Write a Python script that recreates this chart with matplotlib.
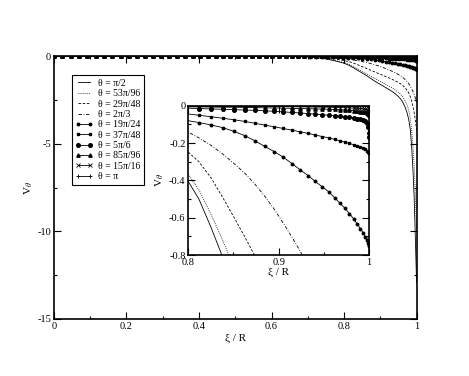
import numpy as np
import matplotlib.pyplot as plt
from matplotlib.ticker import MultipleLocator, FuncFormatter

plt.rcParams['font.family'] = ['Liberation Serif', 'DejaVu Serif']
plt.rcParams['mathtext.fontset'] = 'stix'
plt.rcParams['axes.unicode_minus'] = False

# radial grid (denser towards the wall, as the markers show)
xi = [0.0, 0.0231, 0.0462, 0.0693, 0.0923, 0.1152, 0.1382, 0.1610, 0.1837, 0.2064,
      0.2290, 0.2514, 0.2737, 0.2958, 0.3178, 0.3396, 0.3612, 0.3827, 0.4039, 0.4250,
      0.4457, 0.4663, 0.4866, 0.5067, 0.5263, 0.5459, 0.5651, 0.5841, 0.6026, 0.6209,
      0.6389, 0.6565, 0.6737, 0.6906, 0.7071, 0.7232, 0.7390, 0.7544, 0.7693, 0.7839,
      0.7980, 0.8117, 0.8250, 0.8379, 0.8502, 0.8622, 0.8737, 0.8846, 0.8952, 0.9052,
      0.9148, 0.9239, 0.9325, 0.9406, 0.9482, 0.9553, 0.9619, 0.9679, 0.9735, 0.9784,
      0.9830, 0.9870, 0.9904, 0.9934, 0.9957, 0.9976, 0.9989, 0.9997, 1.0]

v_a = [0, 0, 0, 0, 0, 0, 0, 0, 0, 0, 0, 0, 0, 0, 0, 0, 0, 0, 0, 0,
       0, 0, 0, 0, 0, -0.001, -0.002, -0.003, -0.005, -0.007,
       -0.010, -0.015, -0.025, -0.040, -0.060, -0.088, -0.125, -0.175, -0.240, -0.315,
       -0.390, -0.500, -0.650, -0.810, -0.960, -1.110, -1.270, -1.420, -1.550, -1.670,
       -1.790, -1.900, -2.010, -2.140, -2.270, -2.420, -2.620, -2.880, -3.200, -3.600,
       -4.200, -5.300, -6.600, -8.000, -9.600, -11.00, -12.00, -12.60, -12.90]
v_b = [0, 0, 0, 0, 0, 0, 0, 0, 0, 0, 0, 0, 0, 0, 0, 0, 0, 0, 0, 0,
       0, 0, 0, 0, 0, -0.001, -0.002, -0.003, -0.004, -0.006,
       -0.008, -0.012, -0.020, -0.033, -0.050, -0.075, -0.108, -0.152, -0.210, -0.280,
       -0.355, -0.450, -0.580, -0.720, -0.860, -1.000, -1.140, -1.270, -1.390, -1.500,
       -1.610, -1.710, -1.810, -1.920, -2.030, -2.160, -2.320, -2.520, -2.760, -3.080,
       -3.550, -4.300, -5.200, -6.200, -7.300, -8.400, -9.200, -9.700, -9.850]
v_c = [0, 0, 0, 0, 0, 0, 0, 0, 0, 0, 0, 0, 0, 0, 0, 0, 0, 0, 0, 0,
       0, 0, 0, 0, 0, 0, -0.001, -0.002, -0.003, -0.004,
       -0.005, -0.008, -0.013, -0.021, -0.032, -0.048, -0.070, -0.100, -0.140, -0.190,
       -0.240, -0.300, -0.385, -0.490, -0.595, -0.700, -0.805, -0.900, -0.990, -1.075,
       -1.160, -1.240, -1.320, -1.400, -1.480, -1.570, -1.670, -1.790, -1.930, -2.100,
       -2.320, -2.600, -2.900, -3.200, -3.500, -3.780, -4.000, -4.150, -4.200]
v_d = [0, 0, 0, 0, 0, 0, 0, 0, 0, 0, 0, 0, 0, 0, 0, 0, 0, 0, 0, 0,
       0, 0, 0, 0, 0, 0, 0, -0.001, -0.001, -0.002,
       -0.003, -0.005, -0.008, -0.012, -0.018, -0.027, -0.040, -0.057, -0.080, -0.107,
       -0.137, -0.172, -0.212, -0.258, -0.308, -0.360, -0.420, -0.485, -0.555, -0.630,
       -0.705, -0.780, -0.860, -0.940, -1.020, -1.110, -1.210, -1.320, -1.440, -1.570,
       -1.720, -1.880, -2.030, -2.180, -2.320, -2.440, -2.530, -2.580, -2.600]
v_e = [0, 0, 0, 0, 0, 0, 0, 0, 0, 0, 0, 0, 0, 0, 0, 0, 0, 0, 0, 0,
       0, 0, 0, 0, 0, -0.001, -0.002, -0.002, -0.003, -0.004,
       -0.006, -0.009, -0.013, -0.018, -0.024, -0.031, -0.040, -0.050, -0.060, -0.070,
       -0.079, -0.090, -0.103, -0.117, -0.137, -0.160, -0.188, -0.218, -0.246, -0.276,
       -0.310, -0.344, -0.374, -0.406, -0.434, -0.461, -0.492, -0.523, -0.550, -0.578,
       -0.607, -0.634, -0.658, -0.680, -0.703, -0.722, -0.736, -0.745, -0.750]
v_f = [0, 0, 0, 0, 0, 0, 0, 0, 0, 0, 0, 0, 0, 0, 0, 0, 0, 0, 0, 0,
       0, 0, 0, 0, 0, 0, -0.001, -0.001, -0.002, -0.002,
       -0.003, -0.004, -0.006, -0.008, -0.011, -0.014, -0.018, -0.023, -0.029, -0.036,
       -0.043, -0.051, -0.059, -0.067, -0.075, -0.084, -0.094, -0.104, -0.113, -0.122,
       -0.131, -0.140, -0.148, -0.157, -0.165, -0.172, -0.180, -0.188, -0.195, -0.202,
       -0.209, -0.215, -0.221, -0.227, -0.234, -0.241, -0.247, -0.252, -0.255]
v_g = [0, 0, 0, 0, 0, 0, 0, 0, 0, 0, 0, 0, 0, 0, 0, 0, 0, 0, 0, 0,
       0, 0, 0, 0, 0, 0, 0, -0.001, -0.001, -0.001,
       -0.002, -0.003, -0.004, -0.005, -0.006, -0.007, -0.008, -0.009, -0.010, -0.012,
       -0.013, -0.015, -0.017, -0.019, -0.021, -0.023, -0.025, -0.027, -0.030, -0.033,
       -0.036, -0.039, -0.042, -0.045, -0.048, -0.051, -0.054, -0.057, -0.060, -0.063,
       -0.066, -0.069, -0.072, -0.076, -0.083, -0.095, -0.115, -0.145, -0.170]
v_h = [0, 0, 0, 0, 0, 0, 0, 0, 0, 0, 0, 0, 0, 0, 0, 0, 0, 0, 0, 0,
       0, 0, 0, 0, 0, 0, 0, 0, 0, 0,
       -0.001, -0.001, -0.002, -0.002, -0.003, -0.003, -0.004, -0.004, -0.005, -0.005,
       -0.006, -0.006, -0.007, -0.008, -0.008, -0.009, -0.010, -0.011, -0.012, -0.013,
       -0.014, -0.015, -0.016, -0.017, -0.018, -0.019, -0.020, -0.022, -0.023, -0.025,
       -0.027, -0.029, -0.031, -0.033, -0.036, -0.039, -0.042, -0.046, -0.050]
v_i = [0, 0, 0, 0, 0, 0, 0, 0, 0, 0, 0, 0, 0, 0, 0, 0, 0, 0, 0, 0,
       0, 0, 0, 0, 0, 0, 0, 0, 0, 0,
       0, 0, 0, 0, -0.001, -0.001, -0.001, -0.001, -0.002, -0.002,
       -0.002, -0.002, -0.003, -0.003, -0.003, -0.004, -0.004, -0.004, -0.005, -0.005,
       -0.006, -0.006, -0.007, -0.007, -0.008, -0.008, -0.009, -0.010, -0.011, -0.012,
       -0.013, -0.014, -0.015, -0.017, -0.019, -0.021, -0.023, -0.026, -0.028]
v_j = [0, 0, 0, 0, 0, 0, 0, 0, 0, 0, 0, 0, 0, 0, 0, 0, 0, 0, 0, 0,
       0, 0, 0, 0, 0, 0, 0, 0, 0, 0, 0, 0, 0, 0, 0, 0, 0, 0, 0, 0,
       0, 0, 0, 0, 0, 0, 0, 0, 0, 0, 0, 0, 0, 0, 0, 0, 0, 0, 0, 0,
       0, 0, 0, 0, 0, 0, 0, 0, 0]

series = [v_a, v_b, v_c, v_d, v_e, v_f, v_g, v_h, v_i, v_j]
labels = ['θ = π/2', 'θ = 53π/96', 'θ = 29π/48', 'θ = 2π/3', 'θ = 19π/24',
          'θ = 37π/48', 'θ = 5π/6', 'θ = 85π/96', 'θ = 15π/16', 'θ = π']

styles = [
    dict(ls='-'),
    dict(ls=(0, (1, 1.5))),
    dict(ls=(0, (3, 2))),
    dict(ls=(0, (4, 2, 1, 2))),
    dict(ls='-', marker='o', ms=1.8),
    dict(ls='-', marker='s', ms=1.6),
    dict(ls='-', marker='o', ms=2.6),
    dict(ls='-', marker='^', ms=2.4),
    dict(ls='-', marker='x', ms=2.4, mew=0.6),
    dict(ls='-', marker='+', ms=3.2, mew=0.6),
]

fig = plt.figure(figsize=(4.69, 3.76), dpi=100)
ax = fig.add_axes([0.1151, 0.1516, 0.773, 0.699])
ins = fig.add_axes([0.4015, 0.3218, 0.3853, 0.397])

for v, lab, st in zip(series, labels, styles):
    for a in (ax, ins):
        a.plot(xi, v, color='black', lw=0.6, label=lab, **st)

fmt = FuncFormatter(lambda val, pos: '%g' % val)

def style_axes(a, xmaj, xmin, ymaj, ymin, fs):
    a.xaxis.set_major_locator(MultipleLocator(xmaj))
    a.xaxis.set_minor_locator(MultipleLocator(xmin))
    a.yaxis.set_major_locator(MultipleLocator(ymaj))
    a.yaxis.set_minor_locator(MultipleLocator(ymin))
    a.xaxis.set_major_formatter(fmt)
    a.yaxis.set_major_formatter(fmt)
    a.tick_params(which='both', direction='in', top=True, right=True,
                  labelsize=fs, pad=2, width=0.8)
    a.tick_params(which='major', length=5)
    a.tick_params(which='minor', length=2.5)
    for s in a.spines.values():
        s.set_linewidth(1.2)

ax.set_xlim(0, 1)
ax.set_ylim(-15, 0)
style_axes(ax, 0.2, 0.1, 5, 2.5, 7.5)
ax.set_xlabel('ξ / R', fontsize=8, labelpad=2)
ax.set_ylabel(r'V$_\theta$', fontsize=8, labelpad=2)

ins.set_xlim(0.8, 1)
ins.set_ylim(-0.8, 0)
style_axes(ins, 0.1, 0.05, 0.2, 0.1, 7.5)
ins.set_xlabel('ξ / R', fontsize=8, labelpad=1)
ins.set_ylabel(r'V$_\theta$', fontsize=8, labelpad=2)

handles, labs = ax.get_legend_handles_labels()
leg = ax.legend(handles, labs, loc='upper left', bbox_to_anchor=(0.035, 0.945),
                fontsize=7, numpoints=2, handlelength=1.8, labelspacing=0.14,
                handletextpad=0.6, borderpad=0.35, fancybox=False, framealpha=1,
                edgecolor='black')
leg.get_frame().set_linewidth(0.8)

fig.savefig('out.png', dpi=100)
